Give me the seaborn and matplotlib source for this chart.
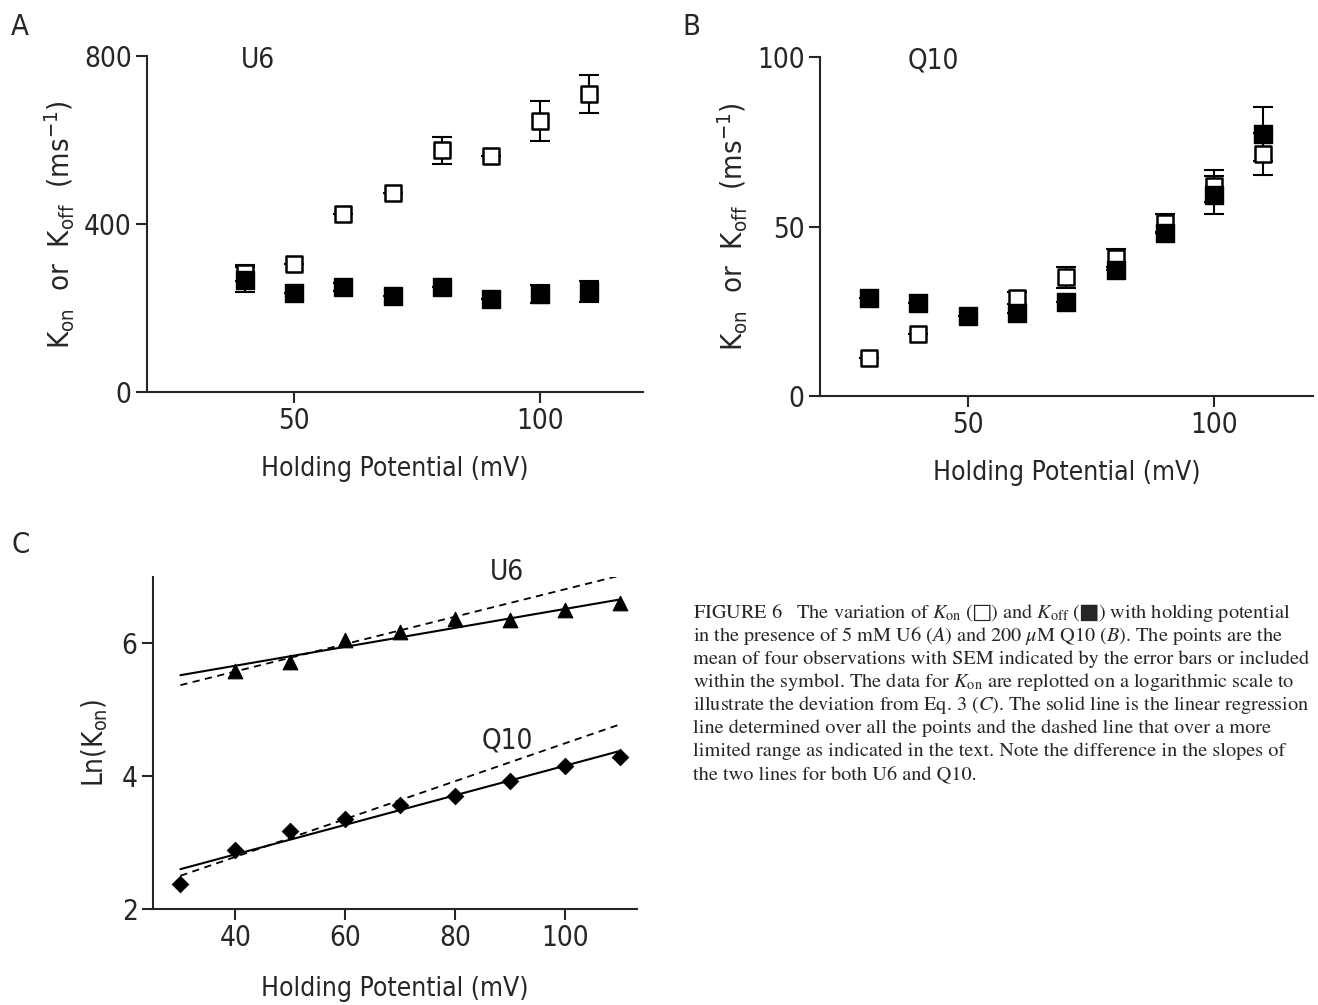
import numpy as np
import pandas as pd
import matplotlib
matplotlib.use("Agg")
import matplotlib.pyplot as plt
import seaborn as sns

# ------------------------------------------------------------------
# Data
# ------------------------------------------------------------------
# Panel A: U6, rates in ms^-1
volts_a = [40, 50, 60, 70, 80, 90, 100, 110]
u6_kon = [283, 305, 424, 474, 576, 562, 645, 710]
u6_kon_err = [19, 0, 0, 0, 32, 0, 48, 46]
u6_koff = [268, 236, 250, 229, 249, 221, 233, 240]
u6_koff_err = [30, 0, 10, 0, 0, 0, 22, 25]

# Panel B: Q10, rates in ms^-1
volts_b = [30, 40, 50, 60, 70, 80, 90, 100, 110]
q10_kon = [11.2, 18.3, 23.5, 29.0, 35.0, 40.7, 51.0, 62.0, 71.4]
q10_kon_err = [0, 0, 0, 1.8, 3.1, 2.7, 2.7, 4.7, 6.2]
q10_koff = [29.0, 27.4, 23.6, 24.5, 27.7, 37.2, 48.1, 59.3, 77.3]
q10_koff_err = [0, 0, 0, 0, 0, 0, 0, 5.6, 8.0]

# Panel C: Ln(Kon) and the two regression lines for each drug
ln_u6 = [5.58, 5.72, 6.05, 6.17, 6.37, 6.35, 6.50, 6.60]
ln_q10 = [2.37, 2.89, 3.17, 3.36, 3.57, 3.70, 3.93, 4.15, 4.29]
fit_x = [30, 110]
u6_solid = [5.52, 6.66]
u6_dashed = [5.37, 7.02]
q10_solid = [2.60, 4.38]
q10_dashed = [2.50, 4.78]

caption = [
    r"FIGURE 6   The variation of $K_{\rm on}$ (□) and $K_{\rm off}$ (■) with holding potential",
    r"in the presence of 5 mM U6 ($A$) and 200 $\mu$M Q10 ($B$). The points are the",
    "mean of four observations with SEM indicated by the error bars or included",
    r"within the symbol. The data for $K_{\rm on}$ are replotted on a logarithmic scale to",
    r"illustrate the deviation from Eq. 3 ($C$). The solid line is the linear regression",
    "line determined over all the points and the dashed line that over a more",
    "limited range as indicated in the text. Note the difference in the slopes of",
    "the two lines for both U6 and Q10.",
]

# ------------------------------------------------------------------
# Style
# ------------------------------------------------------------------
sns.set_style("ticks")
plt.rcParams['font.family'] = ['DejaVu Sans']
plt.rcParams['font.stretch'] = 'condensed'
plt.rcParams['axes.linewidth'] = 1.5

TICK = 20
LABEL = 19

fig = plt.figure(figsize=(13.18, 10.05), dpi=100)


def style_axes(ax):
    sns.despine(ax=ax)
    ax.tick_params(direction='out', length=8, width=1.5, labelsize=TICK, pad=3)


def rate_panel(ax, x, kon, kon_err, koff, koff_err):
    ax.errorbar(x, kon, yerr=kon_err, fmt='none', ecolor='black',
                elinewidth=1.5, capsize=7, capthick=1.5, zorder=2)
    ax.errorbar(x, koff, yerr=koff_err, fmt='none', ecolor='black',
                elinewidth=1.5, capsize=7, capthick=1.5, zorder=2)
    sns.scatterplot(x=x, y=kon, marker='s', s=130, color='white',
                    edgecolor='black', linewidth=1.8, ax=ax, zorder=3)
    sns.scatterplot(x=x, y=koff, marker='s', s=150, color='black',
                    edgecolor='black', linewidth=1, ax=ax, zorder=4)


ylab = r'$\mathregular{K_{on}\ \ or\ \ K_{off}\ \ (ms^{-1})}$'

# ---- Panel A ----
ax_a = fig.add_axes([0.1115, 0.610, 0.3765, 0.334])
rate_panel(ax_a, volts_a, u6_kon, u6_kon_err, u6_koff, u6_koff_err)
ax_a.set_xlim(20, 121)
ax_a.set_ylim(0, 800)
ax_a.set_xticks([50, 100])
ax_a.set_yticks([0, 400, 800])
ax_a.set_xlabel('Holding Potential (mV)', fontsize=LABEL, labelpad=15)
ax_a.set_ylabel(ylab, fontsize=21, labelpad=5)
ax_a.text(42.5, 790, 'U6', fontsize=TICK, ha='center', va='center')
style_axes(ax_a)

# ---- Panel B ----
ax_b = fig.add_axes([0.622, 0.606, 0.374, 0.337])
rate_panel(ax_b, volts_b, q10_kon, q10_kon_err, q10_koff, q10_koff_err)
ax_b.set_xlim(20, 120)
ax_b.set_ylim(0, 100)
ax_b.set_xticks([50, 100])
ax_b.set_yticks([0, 50, 100])
ax_b.set_xlabel('Holding Potential (mV)', fontsize=LABEL, labelpad=15)
ax_b.set_ylabel(ylab, fontsize=21, labelpad=5)
ax_b.text(43, 99, 'Q10', fontsize=TICK, ha='center', va='center')
style_axes(ax_b)

# ---- Panel C ----
ax_c = fig.add_axes([0.116, 0.0955, 0.367, 0.3305])
sns.lineplot(x=fit_x, y=u6_solid, color='black', lw=1.5, ax=ax_c)
sns.lineplot(x=fit_x, y=u6_dashed, color='black', lw=1.3,
             linestyle=(0, (4, 3)), ax=ax_c)
sns.lineplot(x=fit_x, y=q10_solid, color='black', lw=1.5, ax=ax_c)
sns.lineplot(x=fit_x, y=q10_dashed, color='black', lw=1.3,
             linestyle=(0, (4, 3)), ax=ax_c)
sns.scatterplot(x=volts_a, y=ln_u6, marker='^', s=110, color='black',
                edgecolor='black', ax=ax_c, zorder=3)
sns.scatterplot(x=volts_b, y=ln_q10, marker='D', s=70, color='black',
                edgecolor='black', ax=ax_c, zorder=3)
ax_c.set_xlim(25, 113)
ax_c.set_ylim(2, 7)
ax_c.set_xticks([40, 60, 80, 100])
ax_c.set_yticks([2, 4, 6])
ax_c.set_xlabel('Holding Potential (mV)', fontsize=LABEL, labelpad=17)
ax_c.set_ylabel(r'$\mathregular{Ln(K_{on})}$', fontsize=20, labelpad=8)
ax_c.text(89.5, 7.07, 'U6', fontsize=TICK, ha='center', va='center', clip_on=False)
ax_c.text(89.5, 4.54, 'Q10', fontsize=TICK, ha='center', va='center')
style_axes(ax_c)

# ---- Panel letters ----
fig.text(0.008, 0.973, 'A', fontsize=21, ha='left', va='center')
fig.text(0.518, 0.973, 'B', fontsize=21, ha='left', va='center')
fig.text(0.009, 0.458, 'C', fontsize=21, ha='left', va='center')

# ---- Caption ----
for i, line in enumerate(caption):
    fig.text(693 / 1318, 1 - (613 + 23 * i) / 1005, line, fontsize=14.6,
             family='STIXGeneral', math_fontfamily='stix',
             ha='left', va='center')

fig.savefig('out.png', dpi=100)
